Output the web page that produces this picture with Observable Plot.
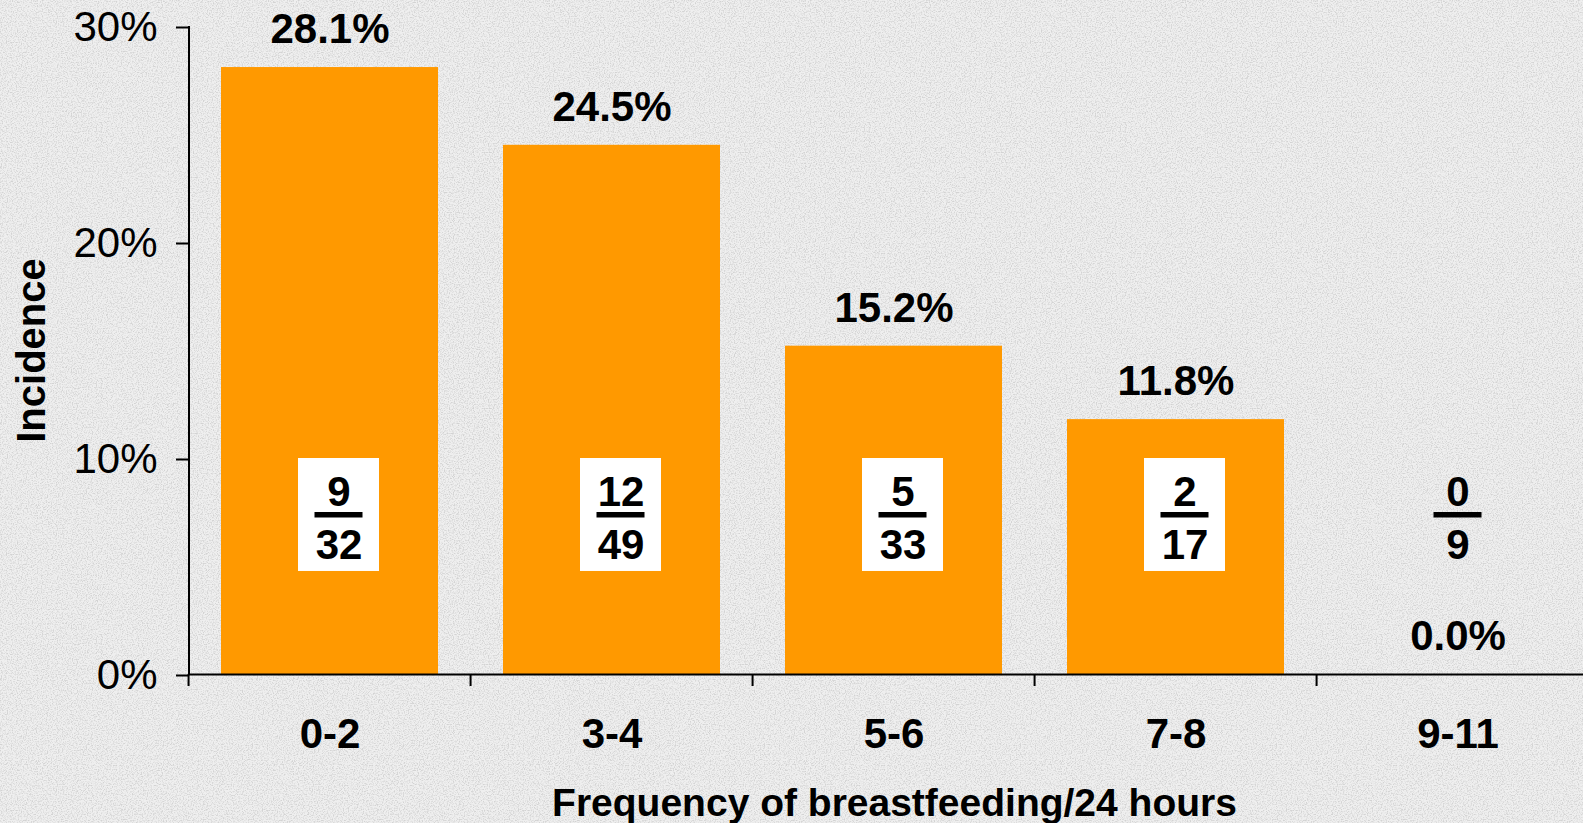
<!DOCTYPE html>
<html>
<head>
<meta charset="utf-8">
<script src="https://cdn.jsdelivr.net/npm/d3@7"></script>
<script src="https://cdn.jsdelivr.net/npm/@observablehq/plot@0.6"></script>
<style>
  html, body { margin: 0; padding: 0; overflow: hidden; }
  body { width: 1583px; height: 823px; background-color: #e8e8e8; }
  #chart svg { display: block; }
</style>
</head>
<body>
<div id="chart"></div>
<script>
// ---- data ----
const categories = ["0-2", "3-4", "5-6", "7-8", "9-11"];
const incidence = [0.281, 0.245, 0.152, 0.118, 0.0];
const cases = [9, 12, 5, 2, 0];
const totals = [32, 49, 33, 17, 9];
const yTicks = [0, 0.1, 0.2, 0.3];
const xTitle = "Frequency of breastfeeding/24 hours";
const yTitle = "Incidence";

// ---- texture background ----
const noise = `<svg xmlns='http://www.w3.org/2000/svg' width='256' height='256'><filter id='n' x='0' y='0' width='100%' height='100%'><feTurbulence type='fractalNoise' baseFrequency='0.8' numOctaves='2' stitchTiles='stitch'/><feColorMatrix type='matrix' values='0 0 0 0 0.5 0 0 0 0 0.5 0 0 0 0 0.5 3.2 0 0 0 -1.4'/></filter><rect width='256' height='256' fill='#efefef'/><rect width='256' height='256' filter='url(#n)' opacity='0.55'/></svg>`;
document.body.style.backgroundImage = `url("data:image/svg+xml,${encodeURIComponent(noise)}")`;

// ---- table ----
const rows = categories.map((c, i) => ({cat: c, value: incidence[i], num: cases[i], den: totals[i]}));
const withBar = rows.filter(d => d.value > 0);
const noBar = rows.filter(d => d.value === 0);

// style constants
const FONT = "Liberation Sans, Arial, Helvetica, sans-serif";
const FS = 42;
const PAD_INNER = 0.23;
const BOX_LOW = 0.0477, BOX_HIGH = 0.10, FRAC_Y = 0.0740;
const BOX_SHIFT = 9;

function fractionMarks(data, shift, withBox) {
  const m = [];
  if (withBox) {
    m.push(Plot.barY(data, {x: "cat", y1: () => BOX_LOW, y2: () => BOX_HIGH, fill: "white",
      insetLeft: 68 + shift, insetRight: 68 - shift}));
  }
  m.push(Plot.tickY(data, {x: "cat", y: () => FRAC_Y, stroke: "black", strokeWidth: 5.5,
    insetLeft: 84.5 + shift, insetRight: 84.5 - shift}));
  m.push(Plot.text(data, {x: "cat", y: () => FRAC_Y, text: d => `${d.num}\n${d.den}`,
    lineHeight: 1.26, lineAnchor: "middle", textAnchor: "middle", dx: shift, dy: 1,
    fontSize: FS, fontWeight: "bold", fill: "black"}));
  return m;
}

// axis lines + band-edge ticks drawn with the plot's own scales
function axisLines(index, scales, values, dims) {
  const {x, y} = scales;
  const g = d3.create("svg:g").attr("stroke", "black").attr("stroke-width", 2).attr("fill", "none");
  const xl = dims.marginLeft;
  g.append("line").attr("x1", xl).attr("x2", xl)
    .attr("y1", y(yTicks[yTicks.length - 1])).attr("y2", y(0));
  const step = x(categories[1]) - x(categories[0]);
  const edges = categories.map(c => x(c) - PAD_INNER * step / 2);
  edges.push(edges[edges.length - 1] + step);
  for (const e of edges) {
    g.append("line").attr("x1", e).attr("x2", e).attr("y1", y(0)).attr("y2", y(0) + 12);
  }
  return g.node();
}

const plot = Plot.plot({
  width: 1583,
  height: 823,
  marginLeft: 189,
  marginRight: -16,
  marginTop: 26,
  marginBottom: 149,
  style: {background: "transparent", fontFamily: FONT, overflow: "hidden"},
  x: {domain: categories, paddingInner: PAD_INNER, paddingOuter: PAD_INNER / 2},
  y: {domain: [0, 0.3]},
  marks: [
    Plot.barY(rows, {x: "cat", y: "value", fill: "#FF9900"}),
    ...fractionMarks(withBar, BOX_SHIFT, true),
    ...fractionMarks(noBar, 0, false),
    Plot.text(rows, {x: "cat", y: "value", text: d => d3.format(".1%")(d.value),
      lineAnchor: "middle", dy: -38, fontSize: FS, fontWeight: "bold", fill: "black"}),
    Plot.ruleY([0], {stroke: "black", strokeWidth: 2}),
    axisLines,
    Plot.axisY({ticks: yTicks, tickFormat: d3.format(".0%"), tickSize: 13, tickPadding: 19,
      fontSize: FS, strokeWidth: 2, label: null, fill: "black", dy: 1}),
    Plot.axisX({tickSize: 0, tickPadding: 44, fontSize: FS, fontWeight: "bold", label: null, fill: "black"}),
    Plot.text([yTitle], {text: d => d, frameAnchor: "left", dx: -157, rotate: -90,
      textAnchor: "middle", lineAnchor: "middle", fontSize: 40, fontWeight: "bold", fill: "black"}),
    Plot.text([xTitle], {text: d => d, frameAnchor: "bottom", dy: 129.5,
      textAnchor: "middle", lineAnchor: "middle", fontSize: 39, fontWeight: "bold", fill: "black"})
  ]
});
document.getElementById("chart").appendChild(plot);
</script>
</body>
</html>
